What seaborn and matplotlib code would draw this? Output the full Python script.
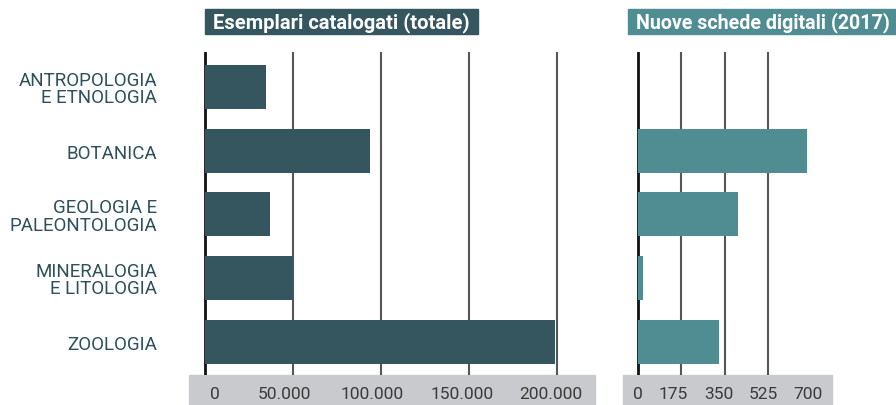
import matplotlib
matplotlib.use("Agg")
import matplotlib.pyplot as plt
import matplotlib.transforms as mtransforms
import seaborn as sns
import pandas as pd
from matplotlib.patches import Rectangle

categories = ["ANTROPOLOGIA\nE ETNOLOGIA", "BOTANICA", "GEOLOGIA E\nPALEONTOLOGIA",
              "MINERALOGIA\nE LITOLOGIA", "ZOOLOGIA"]
esemplari = [34700, 94000, 37000, 50000, 199300]
schede = [0, 680, 403, 22, 327]
left_ticks = [0, 50000, 100000, 150000, 200000]
left_labels = ["0", "50.000", "100.000", "150.000", "200.000"]
right_ticks = [0, 175, 350, 525, 700]
right_labels = ["0", "175", "350", "525", "700"]
title_left = "Esemplari catalogati (totale)"
title_right = "Nuove schede digitali (2017)"

# horizontal pixel nudges of tick labels (layout only)
left_nudge = [10, -9, -9, -7, -6]
right_nudge = [0, -8, -6, -5, -3.5]

DARK = "#35555f"
TEAL = "#4f8d93"
BAND = "#c8cacd"
LABEL = "#2d5059"

sns.set_theme(style="white")
FONT = ["Roboto", "DejaVu Sans"]
plt.rcParams["font.family"] = FONT

W, H = 896, 406
fig = plt.figure(figsize=(W / 100, H / 100), dpi=100)

def fx(px):
    return px / W

def fy(py):
    return 1 - py / H

df = pd.DataFrame({"cat": categories, "esemplari": esemplari, "schede": schede})

top, bottom = 53, 376
PT = 0.72  # points per pixel at 100 dpi

def make_axes(x0, x1, zero_px, unit_px, col, ticks, labels, nudges, grid_ticks,
              color, title, tx0, tx1, tsize):
    ax = fig.add_axes([fx(x0), fy(bottom), fx(x1 - x0), (bottom - top) / H])
    sns.barplot(data=df, x=col, y="cat", orient="h", color=color, width=0.69,
                saturation=1, linewidth=0, ax=ax, zorder=2)
    xmin = -(zero_px - x0) / unit_px
    xmax = (x1 - zero_px) / unit_px
    ax.set_xlim(xmin, xmax)
    ax.set_ylim(4.52, -0.55)
    for t in grid_ticks:
        ax.axvline(t, color="#111111" if t == 0 else "#555555",
                   lw=2.0 if t == 0 else 1.5, zorder=1)
    ax.set_xticks(ticks)
    ax.set_xticklabels(labels, fontsize=12.5, color="#3a3a3a")
    ax.tick_params(axis="x", length=0, pad=11 * PT)
    for lab, dx in zip(ax.get_xticklabels(), nudges):
        lab.set_transform(lab.get_transform() +
                          mtransforms.ScaledTranslation(dx / 100, 0, fig.dpi_scale_trans))
    ax.set_xlabel("")
    ax.set_ylabel("")
    for s in ax.spines.values():
        s.set_visible(False)
    ax.set_facecolor("none")
    # gray band for axis
    fig.patches.append(Rectangle((fx(x0), 0), fx(x1 - x0), (H - bottom) / H,
                                 transform=fig.transFigure, color=BAND, zorder=-5))
    # title box
    fig.patches.append(Rectangle((fx(tx0), fy(35)), fx(tx1 - tx0), 25 / H,
                                 transform=fig.transFigure, color=color, zorder=-5))
    fig.text(fx(tx0 + 8), fy(22.5), title, color="white", fontsize=tsize,
             fontweight="bold", va="center", ha="left")
    return ax

axL = make_axes(189, 595, 205, 351.5 / 200000, "esemplari", left_ticks, left_labels,
                left_nudge, left_ticks, DARK, title_left, 205, 478, 14.5)
axL.set_yticks(range(len(categories)))
axL.set_yticklabels(categories, fontsize=13.5, color=LABEL, linespacing=0.95)
axL.tick_params(axis="y", length=0, pad=32 * PT)

axR = make_axes(623, 832, 637.5, 43.6 / 175, "schede", right_ticks, right_labels,
                right_nudge, right_ticks[:-1], TEAL, title_right, 628, 896, 14.1)
axR.set_yticks([])

fig.savefig("out.png", dpi=100)
